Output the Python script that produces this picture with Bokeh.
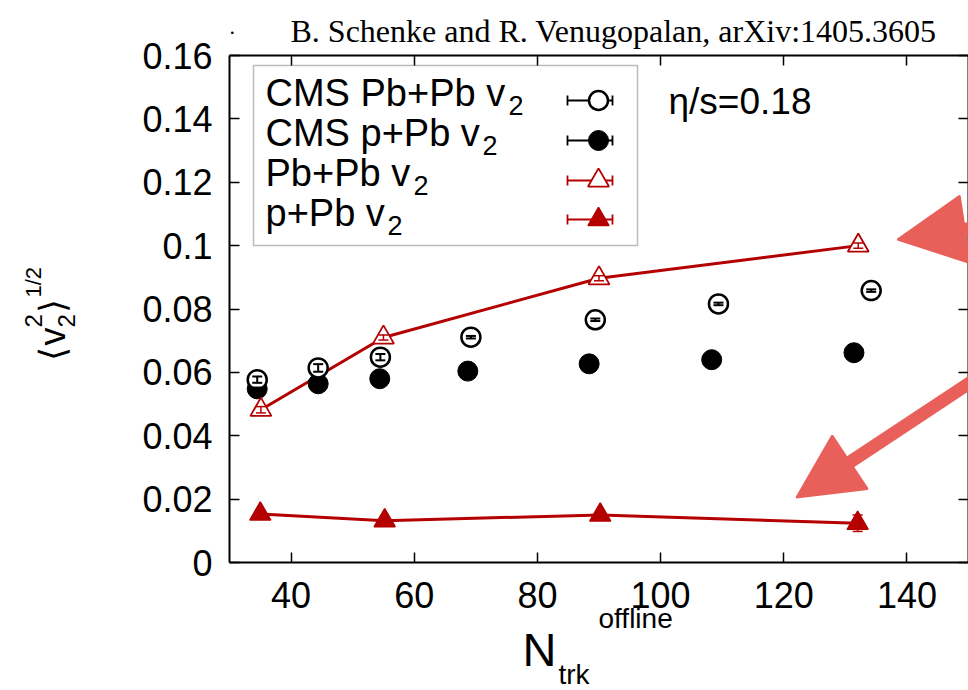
import math
from bokeh.plotting import figure
from bokeh.models import (Range1d, LinearAxis, FixedTicker, ColumnDataSource, Whisker,
                          TeeHead, Label, BoxAnnotation, Arrow, NormalHead)
from bokeh.embed import file_html
from bokeh.resources import INLINE

# ---------------- data ----------------
x_ticks = [40, 60, 80, 100, 120, 140]
y_ticks = [0, 0.02, 0.04, 0.06, 0.08, 0.1, 0.12, 0.14, 0.16]
y_tick_labels = ["0", "0.02", "0.04", "0.06", "0.08", "0.1", "0.12", "0.14", "0.16"]

cms_pbpb_x = [34.5, 44.4, 54.5, 69.2, 89.4, 109.4, 134.2]
cms_pbpb_y = [0.0577, 0.0614, 0.0648, 0.0711, 0.0766, 0.0816, 0.0858]
cms_pbpb_err = [0.0010, 0.0012, 0.0010, 0.0004, 0.0004, 0.0004, 0.0004]

cms_ppb_x = [34.5, 44.4, 54.4, 68.7, 88.4, 108.3, 131.4]
cms_ppb_y = [0.0548, 0.0564, 0.0580, 0.0604, 0.0627, 0.0640, 0.0662]
cms_ppb_err = [0.0004, 0.0004, 0.0004, 0.0004, 0.0004, 0.0004, 0.0004]

model_pbpb_x = [35.1, 55.0, 90.0, 132.1]
model_pbpb_y = [0.0482, 0.0710, 0.0897, 0.1000]
model_pbpb_err = [0.0010, 0.0008, 0.0008, 0.0008]

model_ppb_x = [35.0, 55.2, 90.2, 132.0]
model_ppb_y = [0.0153, 0.0132, 0.0150, 0.0124]
model_ppb_err = [0.0005, 0.0005, 0.0005, 0.0026]

legend_labels = ["CMS Pb+Pb v", "CMS p+Pb v", "Pb+Pb v", "p+Pb v"]

# ---------------- layout ----------------
W, H = 968, 690
FL, FR, FT, FB = 229, 968, 55, 562      # pixel box of the plotting area
X0, X1 = 30, 150
Y0, Y1 = 0.0, 0.16
RED = "#b40000"
CORAL = "#e9605a"
SANS = "Liberation Sans"


def sx(px):
    return X0 + (px - FL) * (X1 - X0) / (FR - FL)


def sy(py):
    return Y0 + (FB - py) * (Y1 - Y0) / (FB - FT)


# the frame spans the whole canvas; the visible box is drawn by bounded axes
p = figure(width=W, height=H, x_range=Range1d(sx(0), sx(W)), y_range=Range1d(sy(H), sy(0)),
           output_backend="svg", toolbar_location=None, min_border=0,
           min_border_left=0, min_border_right=0, min_border_top=0, min_border_bottom=0)
p.title.visible = False
p.background_fill_color = "white"
p.border_fill_color = "white"
p.xgrid.visible = False
p.ygrid.visible = False
p.outline_line_color = None


def style_axis(ax, ticks, bounds, loc):
    ax.ticker = FixedTicker(ticks=ticks)
    ax.bounds = bounds
    ax.fixed_location = loc
    ax.major_tick_in = 10
    ax.major_tick_out = 0
    ax.minor_tick_line_color = None
    ax.axis_line_color = "black"
    ax.axis_line_width = 2
    ax.major_tick_line_color = "black"
    ax.major_tick_line_width = 1.5
    ax.major_label_text_font = SANS
    ax.major_label_text_font_size = "36px"
    ax.major_label_text_color = "black"


xa = p.xaxis[0]
style_axis(xa, x_ticks, (X0, X1), Y0)
xa.major_label_standoff = 19

ya = p.yaxis[0]
style_axis(ya, y_ticks, (Y0, Y1), X0)
ya.major_label_standoff = 17
ya.major_label_overrides = dict(zip(y_ticks, y_tick_labels))

top = LinearAxis()
style_axis(top, x_ticks, (X0, X1), Y1)
top.major_label_text_color = None
p.add_layout(top, "above")

right = LinearAxis()
style_axis(right, y_ticks, (Y0, Y1), X1)
right.major_label_text_color = None
p.add_layout(right, "right")

# ---------------- data glyphs ----------------


def src_of(xs, ys, es):
    return ColumnDataSource(dict(x=xs, y=ys,
                                 lo=[a - e for a, e in zip(ys, es)],
                                 hi=[a + e for a, e in zip(ys, es)]))


src_cms_pbpb = src_of(cms_pbpb_x, cms_pbpb_y, cms_pbpb_err)
src_cms_ppb = src_of(cms_ppb_x, cms_ppb_y, cms_ppb_err)
src_m_pbpb = src_of(model_pbpb_x, model_pbpb_y, model_pbpb_err)
src_m_ppb = src_of(model_ppb_x, model_ppb_y, model_ppb_err)

p.line("x", "y", source=src_m_pbpb, line_color=RED, line_width=3)
p.line("x", "y", source=src_m_ppb, line_color=RED, line_width=3)

p.scatter("x", "y", source=src_cms_ppb, marker="circle", size=20,
          fill_color="black", line_color="black", line_width=1)
p.scatter("x", "y", source=src_cms_pbpb, marker="circle", size=19,
          fill_color="white", line_color="black", line_width=2.5)
p.scatter("x", "y", source=src_m_pbpb, marker="triangle", size=21,
          fill_color="white", line_color=RED, line_width=1.8)
p.scatter("x", "y", source=src_m_ppb, marker="triangle", size=21,
          fill_color=RED, line_color=RED, line_width=1.5)


def whisk(src, color, width=1.8):
    w = Whisker(source=src, base="x", lower="lo", upper="hi", dimension="height",
                line_color=color, line_width=width, level="annotation",
                upper_head=TeeHead(size=10, line_color=color, line_width=width),
                lower_head=TeeHead(size=10, line_color=color, line_width=width))
    p.add_layout(w)


whisk(src_cms_pbpb, "black", 2)
whisk(src_cms_ppb, "black", 2)
whisk(src_m_pbpb, RED, 1.5)
whisk(src_m_ppb, RED, 1.5)

# ---------------- texts (py = visual centre line of the text) ----------------


def lab(text, px, py, size, angle=0.0, font=SANS, align="left", color="black"):
    p.add_layout(Label(x=sx(px), y=sy(py), text=text, text_font=font,
                       text_font_size=f"{size}px", angle=angle, angle_units="rad",
                       text_align=align, text_baseline="middle", text_color=color))


# title
lab("B. Schenke and R. Venugopalan, arXiv:1405.3605", 290, 30, 32, font="Liberation Serif")
lab(".", 229, 26, 22, font="Liberation Serif")

# eta/s
lab("η/s=0.18", 668, 101, 37)

# x-axis label  N_trk^offline
lab("N", 522, 649, 47)
lab("trk", 558, 674, 28)
lab("offline", 598, 618, 28)

# y-axis label  <v_2^2>^{1/2}, rotated (px = centre line)
A = math.pi / 2
lab("⟨", 52, 360, 36, angle=A)
lab("v", 52, 345, 36, angle=A)
lab("2", 66, 327, 24, angle=A)
lab("2", 33, 327, 24, angle=A)
lab("⟩", 52, 312, 36, angle=A)
lab("1/2", 33, 297, 22, angle=A)

# ---------------- legend ----------------
p.add_layout(BoxAnnotation(left=sx(253), right=sx(637), top=sy(65), bottom=sy(245),
                           fill_color=None, line_color="#222222", line_width=1.5))
row_mid = [92, 132, 172, 212]
row_end = [505, 479, 410, 384]
for txt, b, e in zip(legend_labels, row_mid, row_end):
    lab(txt, 265, b, 38)
    lab("2", e + 3, b + 13, 27)

leg_y_px = [100, 140, 180, 219]
for i, (col, mk, fc, sz, lw) in enumerate([
        ("black", "circle", "white", 19, 2.5),
        ("black", "circle", "black", 20, 1),
        (RED, "triangle", "white", 21, 1.8),
        (RED, "triangle", RED, 21, 1.5)]):
    s = ColumnDataSource(dict(x=[sx(598)], y=[sy(leg_y_px[i])],
                              lo=[sx(567)], hi=[sx(612)]))
    p.add_layout(Whisker(source=s, base="y", lower="lo", upper="hi", dimension="width",
                         line_color=col, line_width=1.8, level="underlay",
                         upper_head=TeeHead(size=10, line_color=col, line_width=1.8),
                         lower_head=TeeHead(size=10, line_color=col, line_width=1.8)))
    p.scatter("x", "y", source=s, marker=mk, size=sz, fill_color=fc,
              line_color=col, line_width=lw)

# ---------------- hand-drawn arrows ----------------
p.add_layout(Arrow(x_start=sx(990), y_start=sy(225), x_end=sx(897), y_end=sy(239),
                   line_color=CORAL, line_width=13,
                   end=NormalHead(size=68, fill_color=CORAL, line_color=CORAL, line_width=2)))
p.add_layout(Arrow(x_start=sx(985), y_start=sy(372), x_end=sx(796), y_end=sy(497),
                   line_color=CORAL, line_width=13,
                   end=NormalHead(size=64, fill_color=CORAL, line_color=CORAL, line_width=2)))

open("out.html", "w").write(file_html(p, INLINE))
